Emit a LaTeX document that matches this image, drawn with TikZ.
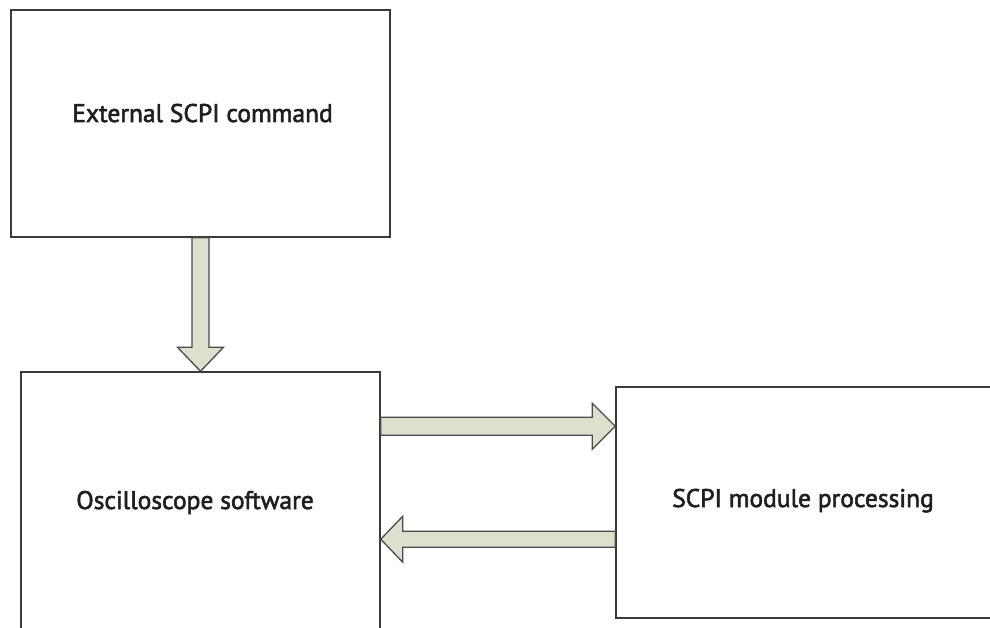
\documentclass[tikz,border=0pt]{standalone}
\usepackage{fontspec}
\setmainfont[FakeBold=2.2]{PT Sans}
\usetikzlibrary{calc}
\definecolor{boxline}{HTML}{3A3A3A}
\definecolor{arrfill}{HTML}{DEE0CD}
\definecolor{arrline}{HTML}{4A4A4A}
\tikzset{
  box/.style={draw=boxline, line width=1.5pt, fill=white, rectangle, inner sep=0pt},
  blockarrow/.style={draw=arrline, line width=1.3pt, fill=arrfill, line join=miter},
  lbl/.style={font=\fontsize{25.5}{28}\selectfont, text=black!88, inner sep=0pt, anchor=base}
}
\begin{document}
\begin{tikzpicture}[x=1pt,y=-1pt]
\useasboundingbox (0,0) rectangle (990,628);
\clip (0,0) rectangle (990,628);
\fill[white] (0,0) rectangle (990,628);
% boxes
\node[box, minimum width=379pt, minimum height=227pt] (ext) at (200.5,123.5) {};
\node[box, minimum width=359pt, minimum height=262pt] (osc) at (200.5,503) {};
\node[box, minimum width=420pt, minimum height=231pt] (scpi) at (826,502.5) {};
% labels
\node[lbl] (t1) at (202.5,122) {External SCPI command};
\node[lbl] (t2) at (195,509) {Oscilloscope software};
\node[lbl] (t3) at (803,507) {SCPI module processing};
% down arrow
\coordinate (dtop) at (ext.south);
\coordinate (dtip) at (ext.south |- osc.north);
\draw[blockarrow] ($(dtop)+(-8.5,0)$) -- ($(dtip)+(-8.5,-24)$) -- ($(dtip)+(-23,-24)$) -- (dtip)
  -- ($(dtip)+(23,-24)$) -- ($(dtip)+(8.5,-24)$) -- ($(dtop)+(8.5,0)$) -- cycle;
% right arrow
\coordinate (r1) at ($(osc.north east)+(0,55)$);
\coordinate (r2) at (scpi.west |- r1);
\draw[blockarrow] ($(r1)+(0,-9)$) -- ($(r2)+(-23,-9)$) -- ($(r2)+(-23,-23)$) -- (r2)
  -- ($(r2)+(-23,23)$) -- ($(r2)+(-23,9)$) -- ($(r1)+(0,9)$) -- cycle;
% left arrow
\coordinate (l1) at ($(osc.north east)+(0,168)$);
\coordinate (l2) at (scpi.west |- l1);
\draw[blockarrow] ($(l2)+(0,-8)$) -- ($(l1)+(22,-8)$) -- ($(l1)+(22,-23)$) -- (l1)
  -- ($(l1)+(22,23)$) -- ($(l1)+(22,8)$) -- ($(l2)+(0,8)$) -- cycle;
\end{tikzpicture}
\end{document}
